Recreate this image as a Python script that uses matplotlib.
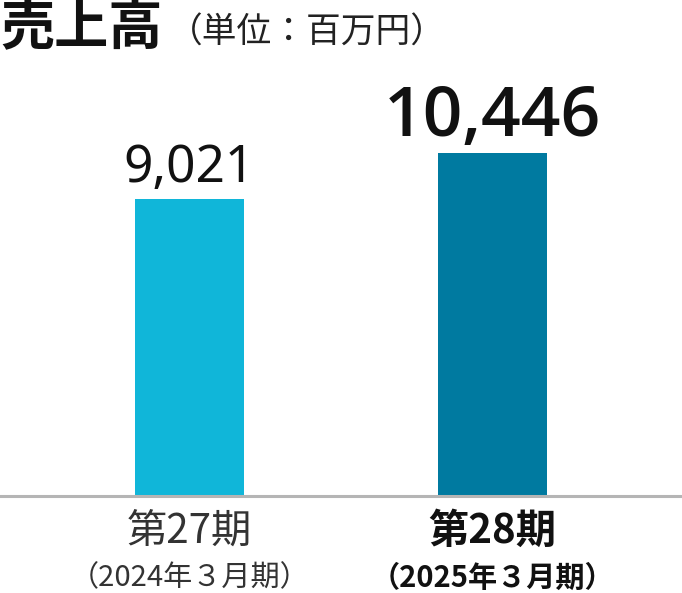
import matplotlib
matplotlib.use("Agg")
import matplotlib.pyplot as plt
import matplotlib.transforms as mtransforms

categories = ["第27期", "第28期"]
periods = ["（2024年３月期）", "（2025年３月期）"]
values = [9021, 10446]
value_labels = ["9,021", "10,446"]
colors = ["#10b6d9", "#007aa0"]

W, H = 682, 593
fig = plt.figure(figsize=(W / 100, H / 100), dpi=100)
base_y = 496
ax = fig.add_axes([0, (H - base_y) / H, 1, base_y / H])
ax.set_axis_off()

xs = list(range(len(values)))
ax.set_xlim(-0.6254, 1.6254)
ax.set_ylim(0, 15090)
ax.bar(xs, values, width=0.36, color=colors, zorder=2)
ax.axhline(0, color="#b5b5b5", lw=2.2, zorder=3, clip_on=False)

jp = ["Noto Sans CJK JP", "DejaVu Sans"]

# value labels
for i, (v, lab) in enumerate(zip(values, value_labels)):
    bold = i == 1
    ax.annotate(lab, (xs[i], v), xytext=(0, 17), textcoords="offset pixels",
                ha="center", va="baseline",
                family=["Open Sans", "DejaVu Sans"] if bold else ["Noto Sans", "DejaVu Sans"],
                fontsize=50 if bold else 37,
                fontweight="semibold" if bold else "normal",
                color="#111111")

# category labels
trans = mtransforms.blended_transform_factory(ax.transData, fig.transFigure)
for i, (c, p) in enumerate(zip(categories, periods)):
    bold = i == 1
    col = "#111111" if bold else "#333333"
    fw = "bold" if bold else "normal"
    ax.text(xs[i], 1 - 531 / H, c, transform=trans, ha="center", va="center",
            family=jp, fontsize=29, fontweight=fw, color=col)
    ax.text(xs[i], 1 - 578 / H, p, transform=trans, ha="center", va="center",
            family=jp, fontsize=21, fontweight=fw, color=col)

# title
fig.text(0 / W, 1 - 28 / H, "売上高", ha="left", va="center",
         family=jp, fontsize=39, fontweight="bold", color="#111111")
fig.text(168 / W, 1 - 33 / H, "（単位：百万円）", ha="left", va="center",
         family=jp, fontsize=25, color="#222222")

fig.savefig("out.png", dpi=100)
